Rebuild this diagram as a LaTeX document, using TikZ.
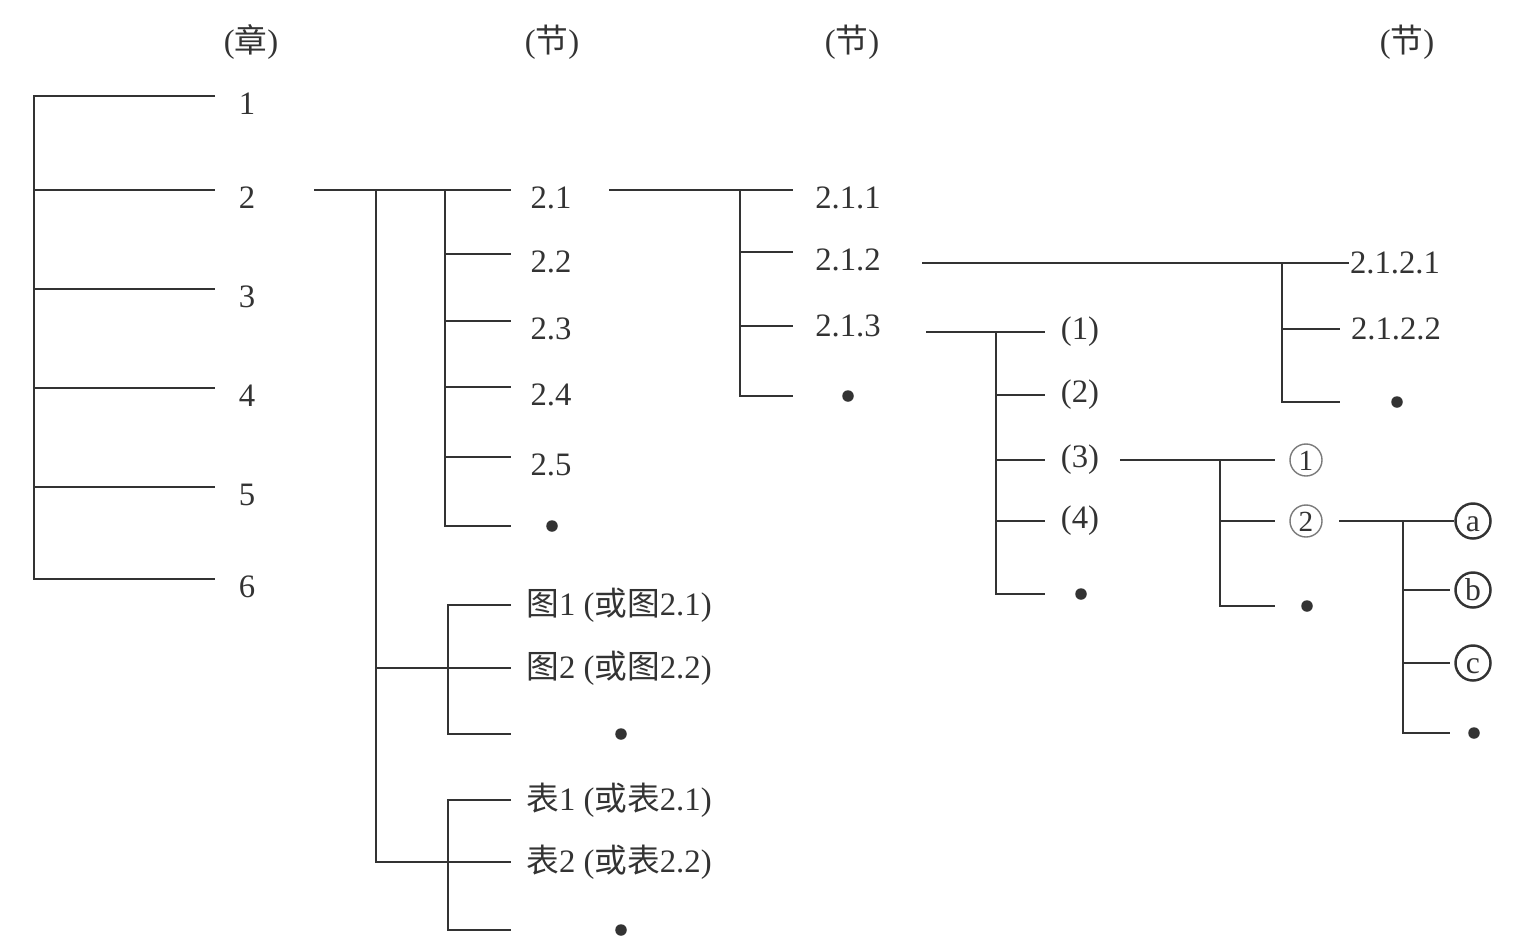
\documentclass[tikz,border=0pt]{standalone}
\usepackage{fontspec}
\setmainfont{Liberation Serif}
\newfontfamily\cjk{Noto Sans CJK SC}
\definecolor{ink}{HTML}{333333}
\definecolor{rim}{HTML}{7A7A7A}
\tikzset{
  lbl/.style={font=\fontsize{9.3}{11}\selectfont, text=ink, inner sep=0pt},
  hi/.style={text height=3.7mm, text depth=0pt},
  bul/.style={circle, fill=ink, inner sep=0pt, minimum size=1.15mm},
  ring/.style={lbl, circle, draw=rim, line width=0.4pt, minimum size=3.2mm,
               font=\fontsize{8.3}{10}\selectfont, text height=2mm, text depth=0pt},
  ringb/.style={ring, draw=ink, line width=0.7pt, minimum size=3.5mm,
                font=\fontsize{9}{11}\selectfont, text height=2.1mm},
  tree/.style={ink, line width=0.6pt},
}

\begin{document}
\begin{tikzpicture}[x=0.01cm, y=-0.01cm]
\path[use as bounding box] (0,0) rectangle (1526,951);
% column heads
\node[lbl] (hch) at (251,42) {({\cjk 章})};
\node[lbl] (hsa) at (552,42) {({\cjk 节})};
\node[lbl] (hsb) at (852,42) {({\cjk 节})};
\node[lbl] (hsc) at (1407,42) {({\cjk 节})};
% chapters
\foreach \n/\y in {1/96,2/190,3/289,4/388,5/487,6/579}
  \node[lbl,hi] (c\n) at (247,\y) {\n};
% sections 2.x
\foreach \n/\y in {1/190,2/254,3/321,4/387,5/457}
  \node[lbl,hi] (s2\n) at (551,\y) {2.\n};
\node[bul] (sdot) at (552,526) {};
% figures and tables
\node[lbl] (f1) at (619,605) {{\cjk 图}1 ({\cjk 或图}2.1)};
\node[lbl] (f2) at (619,668) {{\cjk 图}2 ({\cjk 或图}2.2)};
\node[bul] (fdot) at (621,734) {};
\node[lbl] (t1) at (619,800) {{\cjk 表}1 ({\cjk 或表}2.1)};
\node[lbl] (t2) at (619,862) {{\cjk 表}2 ({\cjk 或表}2.2)};
\node[bul] (tdot) at (621,930) {};
% sections 2.1.x
\node[lbl,hi] (n211) at (848,190) {2.1.1};
\node[lbl,hi] (n212) at (848,252) {2.1.2};
\node[lbl] (n213) at (848,326) {2.1.3};
\node[bul] (ndot) at (848,396) {};
% sections 2.1.2.x
\node[lbl] (m1) at (1395,263) {2.1.2.1};
\node[lbl] (m2) at (1396,329) {2.1.2.2};
\node[bul] (mdot) at (1397,402) {};
% items (1)...
\foreach \n/\y in {1/332,2/395,3/460,4/521}
  \node[lbl] (p\n) at (1080,\y) {(\n)};
\node[bul] (pdot) at (1081,594) {};
% circled numbers
\node[ring] (q1) at (1306,460) {1};
\node[ring] (q2) at (1306,521) {2};
\node[bul] (qdot) at (1307,606) {};
% circled letters
\node[ringb] (r1) at (1473,521) {a};
\node[ringb] (r2) at (1473,590) {b};
\node[ringb] (r3) at (1473,663) {c};
\node[bul] (rdot) at (1474,733) {};

% spine and tip positions
\coordinate (chsp) at (34,0);    \coordinate (chtip) at (215,0);
\coordinate (sfrom) at (314,0);  \coordinate (ssp) at (445,0);   \coordinate (stip) at (511,0);
\coordinate (fsp0) at (376,0);   \coordinate (fsp) at (448,0);   \coordinate (ftip) at (511,0);
\coordinate (nfrom) at (609,0);  \coordinate (nsp) at (740,0);   \coordinate (ntip) at (793,0);
\coordinate (mfrom) at (922,0);  \coordinate (msp) at (1282,0);  \coordinate (mtip) at (1340,0);
\coordinate (pfrom) at (926,0);  \coordinate (psp) at (996,0);   \coordinate (ptip) at (1045,0);
\coordinate (qfrom) at (1120,0); \coordinate (qsp) at (1220,0);  \coordinate (qtip) at (1275,0);
\coordinate (rfrom) at (1339,0); \coordinate (rsp) at (1403,0);  \coordinate (rtip) at (1450,0);

% chapters
\draw[tree] (c1 -| chtip) -| (c6 -| chsp) -- (c6 -| chtip);
\foreach \n in {2,...,5} \draw[tree] (c\n -| chsp) -- (c\n -| chtip);
% 2 -> 2.x
\draw[tree] (c2 -| sfrom) -- (s21 -| stip);
\draw[tree] (s21 -| ssp) |- (sdot -| stip);
\foreach \n in {2,...,5} \draw[tree] (s2\n -| ssp) -- (s2\n -| stip);
% figures and tables
\draw[tree] (s21 -| fsp0) |- (f2 -| ftip);
\draw[tree] (f2 -| fsp0) |- (t2 -| ftip);
\draw[tree] (f1 -| ftip) -| (fdot -| fsp) -- (fdot -| ftip);
\draw[tree] (t1 -| ftip) -| (tdot -| fsp) -- (tdot -| ftip);
% 2.1 -> 2.1.x
\draw[tree] (s21 -| nfrom) -- (n211 -| ntip);
\draw[tree] (n211 -| nsp) |- (ndot -| ntip);
\foreach \n in {212,213} \draw[tree] (n\n -| nsp) -- (n\n -| ntip);
% 2.1.2 -> 2.1.2.x
\draw[tree] (m1 -| mfrom) -- (m1.west);
\draw[tree] (m1 -| msp) |- (mdot -| mtip);
\draw[tree] (m2 -| msp) -- (m2 -| mtip);
% 2.1.3 -> (1)...
\draw[tree] (p1 -| pfrom) -- (p1 -| ptip);
\draw[tree] (p1 -| psp) |- (pdot -| ptip);
\foreach \n in {2,3,4} \draw[tree] (p\n -| psp) -- (p\n -| ptip);
% (3) -> circled numbers
\draw[tree] (p3 -| qfrom) -- (q1 -| qtip);
\draw[tree] (q1 -| qsp) |- (qdot -| qtip);
\draw[tree] (q2 -| qsp) -- (q2 -| qtip);
% circled 2 -> circled letters
\draw[tree] (q2 -| rfrom) -- (r1.west);
\draw[tree] (r1 -| rsp) |- (rdot -| rtip);
\foreach \n in {2,3} \draw[tree] (r\n -| rsp) -- (r\n -| rtip);
\end{tikzpicture}
\end{document}
